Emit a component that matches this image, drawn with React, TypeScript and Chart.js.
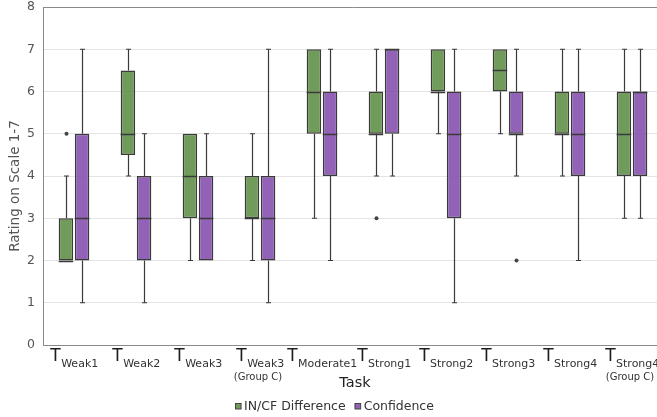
import React, { useEffect, useRef } from 'react';
import { Chart, registerables } from 'chart.js';

Chart.register(...registerables);

// ---- data ----
const taskSubs = ['Weak1', 'Weak2', 'Weak3', 'Weak3', 'Moderate1', 'Strong1', 'Strong2', 'Strong3', 'Strong4', 'Strong4'];
const taskNotes = ['', '', '', '(Group C)', '', '', '', '', '', '(Group C)'];
const categories = taskSubs.map((s, i) => `T ${s}${taskNotes[i] ? ' ' + taskNotes[i] : ''}`);

const seriesNames = ['IN/CF Difference', 'Confidence'];

// IN/CF Difference
const diffMin = [2, 4, 2, 2, 3, 4, 5, 5, 4, 3];
const diffQ1 = [2, 4.5, 3, 3, 5, 5, 6, 6, 5, 4];
const diffMed = [2, 5, 4, 3, 6, 5, 6, 6.5, 5, 5];
const diffQ3 = [3, 6.5, 5, 4, 7, 6, 7, 7, 6, 6];
const diffMax = [4, 7, 5, 5, 7, 7, 7, 7, 7, 7];
const diffOutliers = [[5], [], [], [], [], [3], [], [], [], []];

// Confidence
const confMin = [1, 1, 2, 1, 2, 4, 1, 4, 2, 3];
const confQ1 = [2, 2, 2, 2, 4, 5, 3, 5, 4, 4];
const confMed = [3, 3, 3, 3, 5, 7, 5, 5, 5, 6];
const confQ3 = [5, 4, 4, 4, 6, 7, 6, 6, 6, 6];
const confMax = [7, 5, 5, 7, 7, 7, 7, 7, 7, 7];
const confOutliers = [[], [], [], [], [], [], [], [2], [], []];

const yTicks = [0, 1, 2, 3, 4, 5, 6, 7, 8];

const FONT = '"DejaVu Sans", sans-serif';
const greenFill = 'rgba(98,144,72,0.9)';
const purpleFill = 'rgba(134,81,174,0.9)';
const greenSwatch = '#729b5a';
const purpleSwatch = '#9262b6';
const edge = '#3a3a3a';

const stats = [
  { min: diffMin, q1: diffQ1, med: diffMed, q3: diffQ3, max: diffMax, out: diffOutliers },
  { min: confMin, q1: confQ1, med: confMed, q3: confQ3, max: confMax, out: confOutliers },
];

const boxPlugin = {
  id: 'boxExtras',
  afterDatasetsDraw(chart: any) {
    const ctx = chart.ctx;
    const y = chart.scales.y;
    ctx.save();
    stats.forEach((s, d) => {
      const meta = chart.getDatasetMeta(d);
      meta.data.forEach((el: any, i: number) => {
        const x = Math.round(el.x) + 0.5;
        const half = el.width / 2;
        ctx.strokeStyle = edge;
        ctx.lineWidth = 1.2;
        if (s.max[i] > s.q3[i]) {
          const yt = y.getPixelForValue(s.max[i]);
          const yb = y.getPixelForValue(s.q3[i]);
          ctx.beginPath();
          ctx.moveTo(x, yb);
          ctx.lineTo(x, yt);
          ctx.moveTo(x - 2.5, yt);
          ctx.lineTo(x + 2.5, yt);
          ctx.stroke();
        }
        if (s.min[i] < s.q1[i]) {
          const yt = y.getPixelForValue(s.q1[i]);
          const yb = y.getPixelForValue(s.min[i]);
          ctx.beginPath();
          ctx.moveTo(x, yt);
          ctx.lineTo(x, yb);
          ctx.moveTo(x - 2.5, yb);
          ctx.lineTo(x + 2.5, yb);
          ctx.stroke();
        }
        const ym = Math.round(y.getPixelForValue(s.med[i])) + 0.5;
        ctx.lineWidth = 1.5;
        ctx.beginPath();
        ctx.moveTo(el.x - half, ym);
        ctx.lineTo(el.x + half, ym);
        ctx.stroke();
        ctx.fillStyle = '#444';
        s.out[i].forEach((v: number) => {
          ctx.beginPath();
          ctx.arc(x, y.getPixelForValue(v), 2, 0, Math.PI * 2);
          ctx.fill();
        });
      });
    });
    ctx.restore();
  },
  afterDraw(chart: any) {
    const ctx = chart.ctx;
    const xs = chart.scales.x;
    const area = chart.chartArea;
    ctx.save();
    categories.forEach((_, i) => {
      const cx = xs.getPixelForValue(i);
      ctx.font = `17px ${FONT}`;
      const wT = ctx.measureText('T').width;
      ctx.font = `11px ${FONT}`;
      const wS = ctx.measureText(taskSubs[i]).width;
      const start = cx - (wT + wS) / 2;
      ctx.fillStyle = '#1e1e1e';
      ctx.textAlign = 'left';
      ctx.textBaseline = 'alphabetic';
      ctx.font = `17px ${FONT}`;
      ctx.fillText('T', start, 361);
      ctx.fillStyle = '#333';
      ctx.font = `11px ${FONT}`;
      ctx.fillText(taskSubs[i], start + wT + 0.5, 367);
      if (taskNotes[i]) {
        ctx.font = `10px ${FONT}`;
        ctx.textAlign = 'center';
        ctx.fillText(taskNotes[i], cx - 2, 380);
      }
    });
    ctx.fillStyle = '#222';
    ctx.font = `14.5px ${FONT}`;
    ctx.textAlign = 'center';
    ctx.textBaseline = 'middle';
    ctx.fillText('Task', (area.left + area.right) / 2 + 2, 383);
    ctx.save();
    ctx.translate(15, 186);
    ctx.rotate(-Math.PI / 2);
    ctx.fillStyle = '#555';
    ctx.font = `13.5px ${FONT}`;
    ctx.textAlign = 'center';
    ctx.textBaseline = 'middle';
    ctx.fillText('Rating on Scale 1-7', 0, 0);
    ctx.restore();
    ctx.font = `12.5px ${FONT}`;
    const sw = 6;
    const gapBoxText = 3;
    const gapItems = 9;
    const widths = seriesNames.map((n) => ctx.measureText(n).width);
    const total = widths.reduce((a, w) => a + sw + gapBoxText + w, 0) + gapItems;
    let lx = 334.5 - total / 2;
    const swatches = [greenSwatch, purpleSwatch];
    seriesNames.forEach((n, k) => {
      ctx.fillStyle = swatches[k];
      ctx.fillRect(lx, 403, sw, sw);
      ctx.strokeStyle = '#444';
      ctx.lineWidth = 1;
      ctx.strokeRect(lx + 0.5, 403 + 0.5, sw - 0.5, sw - 0.5);
      lx += sw + gapBoxText;
      ctx.fillStyle = '#333';
      ctx.textAlign = 'left';
      ctx.textBaseline = 'alphabetic';
      ctx.fillText(n, lx, 410);
      lx += widths[k] + gapItems;
    });
    ctx.restore();
  },
};

export default function App() {
  const ref = useRef<HTMLCanvasElement>(null);
  useEffect(() => {
    if (!ref.current) return;
    const chart = new Chart(ref.current, {
      type: 'bar',
      data: {
        labels: categories,
        datasets: [
          {
            label: seriesNames[0],
            data: diffQ1.map((q, i) => [q, diffQ3[i]]) as any,
            backgroundColor: greenFill,
            borderColor: edge,
            borderWidth: 1.5,
            borderSkipped: false,
            categoryPercentage: 0.52,
            barPercentage: 0.9,
          },
          {
            label: seriesNames[1],
            data: confQ1.map((q, i) => [q, confQ3[i]]) as any,
            backgroundColor: purpleFill,
            borderColor: edge,
            borderWidth: 1.5,
            borderSkipped: false,
            categoryPercentage: 0.52,
            barPercentage: 0.9,
          },
        ],
      },
      options: {
        responsive: false,
        animation: false,
        devicePixelRatio: 1,
        layout: { padding: { top: 7, bottom: 22, left: 0, right: 0 } },
        plugins: { legend: { display: false }, tooltip: { enabled: false } },
        scales: {
          x: {
            type: 'category',
            offset: true,
            grid: { display: false, drawTicks: false },
            border: { color: '#8a8a8a', width: 1 },
            ticks: { display: false },
            afterFit: (s: any) => {
              s.height = 50;
              s.paddingLeft = 0;
              s.paddingRight = 0;
            },
          },
          y: {
            min: 0,
            max: 8,
            afterBuildTicks: (s: any) => {
              s.ticks = yTicks.map((v) => ({ value: v }));
            },
            ticks: {
              color: '#555',
              font: { family: FONT, size: 12.5 },
              padding: 8,
            },
            grid: {
              drawTicks: false,
              color: (c: any) => (c.tick && c.tick.value === 8 ? '#8a8a8a' : '#e4e4e4'),
              lineWidth: 1,
            },
            border: { color: '#8a8a8a', width: 1 },
            afterFit: (s: any) => {
              s.width = 43;
              s.paddingTop = 0;
              s.paddingBottom = 0;
            },
          },
        },
      },
      plugins: [boxPlugin],
    });
    return () => chart.destroy();
  }, []);
  return (
    <div style={{ position: 'fixed', left: 0, top: 0, width: 657, height: 417, overflow: 'hidden', background: '#fff' }}>
      <canvas ref={ref} width={663} height={417} />
    </div>
  );
}
